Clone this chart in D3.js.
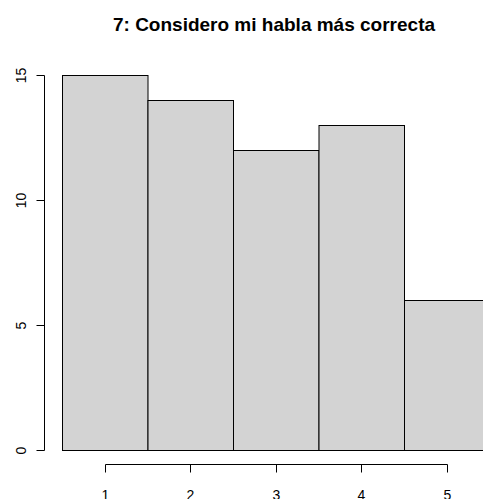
<!DOCTYPE html>
<html><head><meta charset="utf-8">
<script src="https://cdn.jsdelivr.net/npm/d3@7"></script>
<style>body{margin:0;background:#fff}svg{display:block}text{font-family:"Liberation Sans",Arial,sans-serif}</style>
</head><body>
<script>
const categories = ["1","2","3","4","5"];
const values = [15,14,12,13,6];
const yTicks = [0,5,10,15];
const title = "7: Considero mi habla más correcta";

const W=483,H=499;
const svg=d3.select("body").append("svg").attr("width",W).attr("height",H);
const x=d3.scaleBand().domain(categories).range([62,489.5]).padding(0);
const y=d3.scaleLinear().domain([0,15]).range([450,75]);

svg.selectAll("rect.bar").data(values).enter().append("rect")
  .attr("x",(d,i)=>x(categories[i])+0.5).attr("y",d=>y(d)+0.5)
  .attr("width",x.bandwidth()).attr("height",d=>y(0)-y(d))
  .attr("fill","#d3d3d3").attr("stroke","#000").attr("stroke-width",1);

// y axis
const ya=svg.append("g").attr("transform","translate(44.5,0.5)");
ya.append("line").attr("x1",0).attr("x2",0).attr("y1",y(15)).attr("y2",y(0)).attr("stroke","#000");
yTicks.forEach(t=>{
  ya.append("line").attr("x1",-8).attr("x2",0).attr("y1",y(t)).attr("y2",y(t)).attr("stroke","#000");
  ya.append("text").attr("transform",`translate(-18.5,${y(t)}) rotate(-90)`)
    .attr("text-anchor","middle").attr("font-size",14).attr("fill","#000").text(t);
});

// x axis
const xa=svg.append("g").attr("transform","translate(0.5,464.5)");
const cx=c=>Math.round(x(c)+x.bandwidth()/2);
xa.append("line").attr("x1",cx("1")).attr("x2",cx("5")).attr("y1",0).attr("y2",0).attr("stroke","#000");
categories.forEach(c=>{
  xa.append("line").attr("x1",cx(c)).attr("x2",cx(c)).attr("y1",0).attr("y2",8).attr("stroke","#000");
  xa.append("text").attr("x",cx(c)).attr("y",35).attr("text-anchor","middle").attr("font-size",14).attr("fill","#000").text(c);
});

svg.append("text").attr("x",274).attr("y",31).attr("text-anchor","middle")
  .attr("font-size",19).attr("font-weight","bold").attr("fill","#000").text(title);
</script>
</body></html>
